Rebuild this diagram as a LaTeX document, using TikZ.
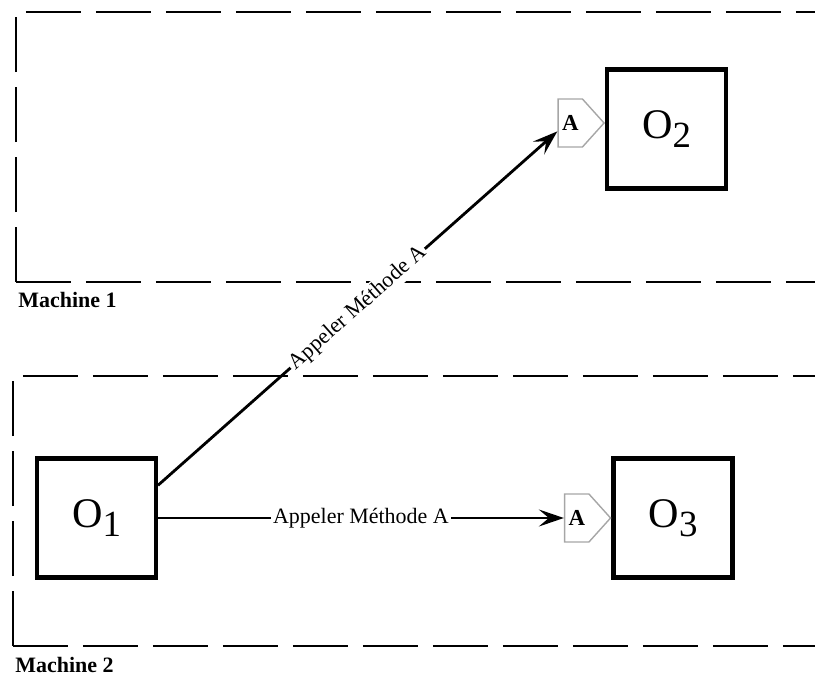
\documentclass[tikz,border=0pt]{standalone}
\usepackage{fontspec}
\setmainfont{Liberation Serif}
\usetikzlibrary{arrows.meta,shapes.symbols}

\tikzset{
  objet/.style={draw, line width=2.3pt, minimum size=2.38cm, inner sep=0pt,
    font=\fontsize{24}{28}\selectfont},
  methode/.style={shape=signal, signal to=east, signal pointer angle=96,
    draw=gray!70, line width=0.8pt, minimum width=0.92cm, minimum height=0.96cm,
    inner sep=0pt, font=\fontsize{13}{15}\selectfont\bfseries},
  machine/.style={line width=0.9pt, dash pattern=on 1.1cm off 0.3cm},
  appel/.style={line width=1.6pt, -{Stealth[length=0.5cm, width=0.34cm, inset=0.2cm]}},
  etiquette/.style={fill=white, inner sep=1pt, font=\fontsize{12.5}{15}\selectfont},
}
\newcommand{\obj}[1]{O\raisebox{-5pt}{\fontsize{21}{24}\selectfont #1}}

\begin{document}
\begin{tikzpicture}[x=0.02cm, y=-0.02cm]
  \useasboundingbox (0,0) rectangle (815,682);

  % les deux machines, ouvertes a droite
  \foreach \x/\haut/\bas/\n in {16/12/282/1, 13/376/646/2} {
    \draw[machine] (\x, \bas) -- (815, \bas);
    \draw[machine] (\x, \bas) -- (\x, \haut) -- (815, \haut);
    \node[anchor=base west, inner sep=0pt, font=\fontsize{12.5}{15}\selectfont\bfseries]
      (m\n) at (\x+2, \bas+26) {Machine \n};
  }

  % objets
  \node[objet] (o1) at (96.5, 518) {\obj{1}};
  \node[objet] (o2) at (666.5, 129) {\obj{2}};
  \node[objet] (o3) at (673, 518) {\obj{3}};

  % interfaces
  \node[methode, anchor=east] (a2) at ([yshift=0.12cm]o2.west) {A};
  \node[methode, anchor=east] (a3) at (o3.west) {A};

  % appels
  \draw[appel] (o1.28) -- (a2.213)
    node[etiquette, midway, sloped] {Appeler Méthode A};
  \draw[appel] (o1.east) -- (a3.west)
    node[etiquette, midway] {Appeler Méthode A};
\end{tikzpicture}
\end{document}
